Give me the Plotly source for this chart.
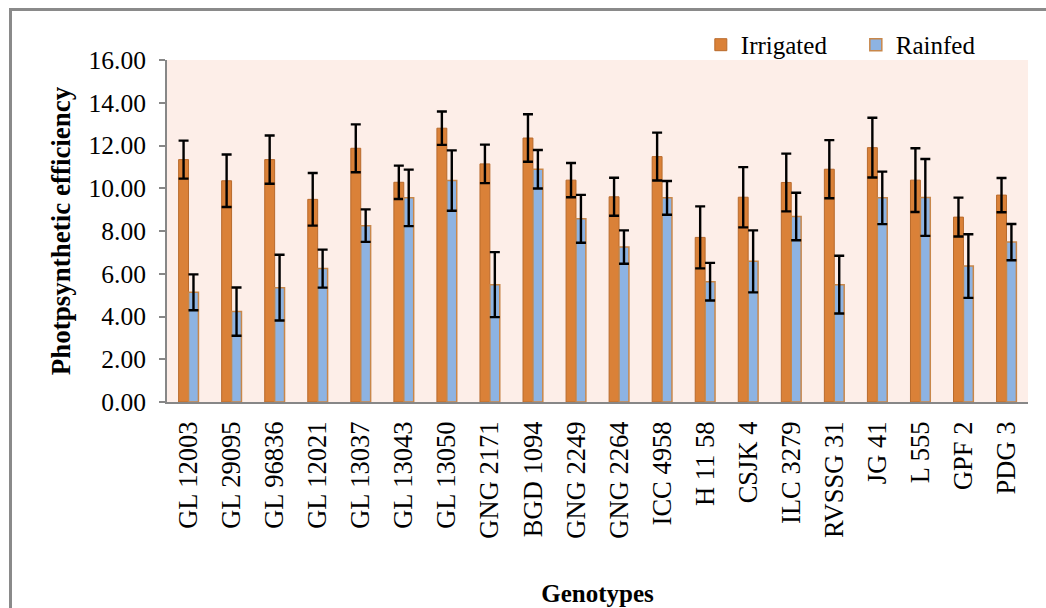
import plotly.graph_objects as go

genotypes = ["GL 12003", "GL 29095", "GL 96836", "GL 12021", "GL 13037", "GL 13043",
             "GL 13050", "GNG 2171", "BGD 1094", "GNG 2249", "GNG 2264", "ICC 4958",
             "H 11 58", "CSJK 4", "ILC 3279", "RVSSG 31", "JG 41", "L 555", "GPF 2", "PDG 3"]

irrigated = [11.34, 10.35, 11.34, 9.48, 11.87, 10.28, 12.81, 11.14, 12.35, 10.38,
             9.60, 11.48, 7.70, 9.58, 10.27, 10.89, 11.90, 10.38, 8.65, 9.68]
irrigated_err = [0.89, 1.23, 1.13, 1.23, 1.12, 0.78, 0.78, 0.90, 1.11, 0.80,
                 0.89, 1.12, 1.45, 1.41, 1.35, 1.36, 1.40, 1.49, 0.91, 0.80]

rainfed = [5.13, 4.23, 5.35, 6.24, 8.25, 9.55, 10.36, 5.49, 10.89, 8.57,
           7.25, 9.55, 5.63, 6.58, 8.68, 5.49, 9.55, 9.57, 6.36, 7.48]
rainfed_err = [0.84, 1.13, 1.54, 0.89, 0.76, 1.32, 1.41, 1.52, 0.90, 1.12,
               0.78, 0.79, 0.88, 1.45, 1.11, 1.35, 1.23, 1.80, 1.49, 0.85]

y_ticks = [0, 2, 4, 6, 8, 10, 12, 14, 16]
y_ticklabels = ["0.00", "2.00", "4.00", "6.00", "8.00", "10.00", "12.00", "14.00", "16.00"]

FONT = "Liberation Serif"

fig = go.Figure()
fig.add_trace(go.Bar(
    name="Irrigated", x=genotypes, y=irrigated,
    marker=dict(color="#DA8138", line=dict(color="#B86A2C", width=1)),
    error_y=dict(type="data", array=irrigated_err, visible=True,
                 color="black", thickness=2.4, width=5),
))
fig.add_trace(go.Bar(
    name="Rainfed", x=genotypes, y=rainfed,
    marker=dict(color="#8DB3E2", line=dict(color="#C8874A", width=1.5)),
    error_y=dict(type="data", array=rainfed_err, visible=True,
                 color="black", thickness=2.4, width=5),
))

fig.update_layout(
    width=1046, height=608,
    margin=dict(l=167, r=18, t=60, b=206, autoexpand=False),
    paper_bgcolor="white",
    plot_bgcolor="#FDEEE8",
    barmode="group",
    bargap=0.54,
    bargroupgap=0,
    font=dict(family=FONT, size=25, color="black"),
    legend=dict(orientation="h", x=0.620, y=1.044, xanchor="left", yanchor="middle",
                font=dict(family=FONT, size=25), bgcolor="rgba(0,0,0,0)",
                itemwidth=30, entrywidth=110, traceorder="normal"),
    xaxis=dict(
        showline=True, linecolor="#878787", linewidth=2,
        ticks="", tickangle=-90, tickfont=dict(family=FONT, size=26.5),
        showgrid=False, ticklabelstandoff=7,
        title=dict(text="<b>Genotypes</b>", font=dict(family=FONT, size=25), standoff=47),
    ),
    yaxis=dict(
        range=[0, 16], tickvals=y_ticks, ticktext=y_ticklabels,
        showline=True, linecolor="#878787", linewidth=2,
        ticks="outside", ticklen=6, tickcolor="#878787", tickwidth=1.5,
        showgrid=False, zeroline=False,
        tickfont=dict(family=FONT, size=25.5), ticklabelstandoff=8,
        title=dict(text="<b>Photpsynthetic efficiency</b>", font=dict(family=FONT, size=27), standoff=10),
    ),
    shapes=[dict(type="rect", xref="paper", yref="paper",
                 x0=(10.5 - 167) / 861, x1=1.2, y0=-0.9, y1=(402 - 9.5) / 342,
                 line=dict(color="#8A8A8A", width=3), fillcolor="rgba(0,0,0,0)", layer="above")],
)

fig.write_html("out.html")
